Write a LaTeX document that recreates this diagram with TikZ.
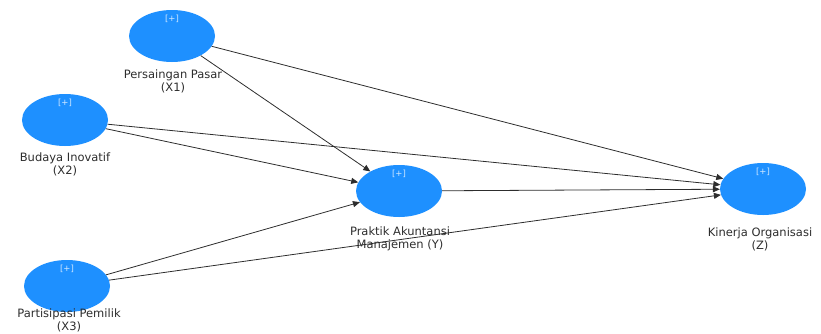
\documentclass[tikz,border=0pt]{standalone}
\usepackage{fontspec}
\setmainfont{DejaVu Sans}
\usetikzlibrary{shapes.geometric,arrows.meta}
\definecolor{latent}{RGB}{30,144,255}
\definecolor{edgegray}{RGB}{45,45,45}
\definecolor{labelgray}{RGB}{45,45,45}
\tikzset{
  construct/.style={ellipse, fill=latent, draw=none, minimum width=86pt, minimum height=52pt, inner sep=0pt},
  plus/.style={text=white!80!latent, font=\fontsize{8.5}{9}\selectfont, inner sep=0pt},
  caption/.style={text=labelgray, align=center, font=\fontsize{11.5}{13}\selectfont, inner sep=0pt},
  path/.style={draw=edgegray, line width=0.8pt, -{Triangle[length=7pt,width=6pt]}}
}
\begin{document}
\begin{tikzpicture}[x=1pt,y=-1pt]
\useasboundingbox (0,0) rectangle (821,333);
% latent constructs
\node[construct] (x1) at (172,36) {};
\node[construct] (x2) at (65,120) {};
\node[construct] (x3) at (67,286) {};
\node[construct] (y)  at (399,191) {};
\node[construct] (z)  at (763,189) {};
% expand markers near the top of each construct
\foreach \n in {x1,x2,x3,y,z}
  \node[plus] (\n-plus) at ([yshift=17pt]\n.center) {[+]};
% captions
\node[caption] (x1-cap) at (173,81) {Persaingan Pasar\\(X1)};
\node[caption] (x2-cap) at (65,164) {Budaya Inovatif\\(X2)};
\node[caption] (x3-cap) at (69,320) {Partisipasi Pemilik\\(X3)};
\node[caption] (y-cap)  at (400,239) {Praktik Akuntansi\\Manajemen (Y)};
\node[caption] (z-cap)  at (760,239) {Kinerja Organisasi\\(Z)};
% structural paths
\draw[path] (x1) -- (y);
\draw[path] (x1) -- (z);
\draw[path] (x2) -- (y);
\draw[path] (x2) -- (z);
\draw[path] (x3) -- (y);
\draw[path] (x3) -- (z);
\draw[path] (y) -- (z);
\end{tikzpicture}
\end{document}
